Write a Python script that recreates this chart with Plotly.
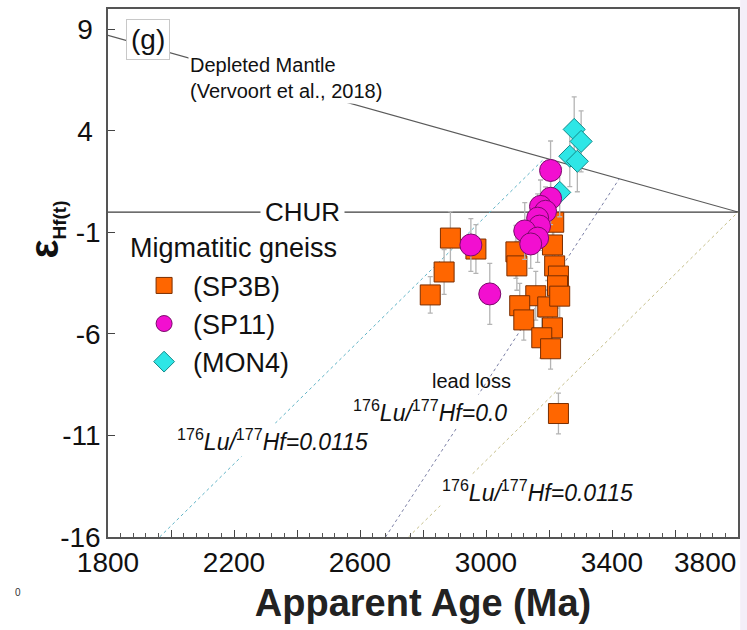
import plotly.graph_objects as go

# --- sample data: apparent age (Ma), epsilon Hf(t) and 2-sigma errors ---
sp3b_age = [2887, 2968, 2867, 2823, 3095, 3098, 3215, 3211, 3218, 3230,
            3227, 3158, 3107, 3196, 3120, 3211, 3177, 3205, 3230, 3234]
sp3b_eps = [-1.28, -1.82, -2.95, -4.08, -1.96, -2.65, -0.50, -1.62, -2.65, -3.15,
            -3.63, -4.12, -4.61, -4.67, -5.31, -5.70, -6.19, -6.73, -9.92, -4.14]
sp3b_err = [1.3, 1.2, 1.1, 0.9, 1.3, 1.2, 1.2, 1.3, 1.1, 1.2,
            1.1, 1.2, 1.1, 1.3, 1.0, 1.1, 1.0, 1.0, 1.0, 1.1]

sp11_age = [3205, 3205, 3173, 3189, 3164, 3170, 3123, 3164, 3142, 2952, 3012]
sp11_eps = [2.05, 0.68, 0.28, 0.04, -0.30, -0.69, -0.93, -1.28, -1.57, -1.62, -4.03]
sp11_err = [1.45, 1.3, 1.3, 1.2, 1.2, 1.2, 1.4, 1.2, 1.2, 1.3, 1.5]

mon4_age = [3280, 3302, 3266, 3290, 3234]
mon4_eps = [4.07, 3.48, 2.75, 2.50, 0.97]
mon4_err = [1.6, 1.5, 1.5, 1.5, 1.2]

# --- reference curves ---
dm_age = [1800, 3800]
dm_eps = [8.7, 0.0]
chur_age = [1800, 3800]
chur_eps = [0.0, 0.0]
evo1_age = [1964, 3186]          # 176Lu/177Hf = 0.0115 from the DM
evo1_eps = [-16.0, 2.65]
leadloss_age = [2681, 3423]      # 176Lu/177Hf = 0.0 (lead loss)
leadloss_eps = [-16.0, 1.64]
evo2_age = [2754, 3800]          # 176Lu/177Hf = 0.0115 from CHUR
evo2_eps = [-16.0, 0.0]

x_major = [1800, 2000, 2200, 2400, 2600, 2800, 3000, 3200, 3400, 3600, 3800]
x_labels = ["1800", "", "2200", "", "2600", "", "3000", "", "3400", "", ""]
y_ticks = [-16, -11, -6, -1, 4, 9]
y_labels = ["-16", "-11", "-6", "-1", "4\u00a0", "9\u00a0"]

FONT = "Arial, Liberation Sans, sans-serif"

fig = go.Figure()

def ref_line(x, y, color, width, dash="solid"):
    fig.add_trace(go.Scatter(x=x, y=y, mode="lines", showlegend=False,
                             hoverinfo="skip",
                             line=dict(color=color, width=width, dash=dash)))

ref_line(dm_age, dm_eps, "#5a5a5a", 1.1)
ref_line(chur_age, chur_eps, "#3c3c3c", 1.3)
ref_line(evo1_age, evo1_eps, "#5fb3c6", 1.0, "dot")
ref_line(leadloss_age, leadloss_eps, "#7b7fa6", 1.0, "dot")
ref_line(evo2_age, evo2_eps, "#c6bf8a", 1.0, "dot")

err_style = dict(type="data", visible=True, color="#b4b4b4", thickness=1.3, width=2.5)

fig.add_trace(go.Scatter(
    x=sp3b_age, y=sp3b_eps, mode="markers", name="(SP3B)", legendrank=1,
    error_y=dict(array=sp3b_err, **err_style),
    marker=dict(symbol="square", size=20, color="#ff6600",
                line=dict(color="#7a2e00", width=1))))

fig.add_trace(go.Scatter(
    x=mon4_age, y=mon4_eps, mode="markers", name="(MON4)", legendrank=3,
    error_y=dict(array=mon4_err, **err_style),
    marker=dict(symbol="diamond", size=17, color="#2ee6e6",
                line=dict(color="#138a8a", width=1))))

fig.add_trace(go.Scatter(
    x=sp11_age, y=sp11_eps, mode="markers", name="(SP11)", legendrank=2,
    error_y=dict(array=sp11_err, **err_style),
    marker=dict(symbol="circle", size=22, color="#f20fd0",
                line=dict(color="#7a0a6a", width=1))))


def txt(size, color="#111111"):
    return dict(family=FONT, size=size, color=color)


lu0 = "<sup>176</sup><i>Lu/</i><sup>177</sup><i>Hf=0.0</i>"
lu115 = "<sup>176</sup><i>Lu/</i><sup>177</sup><i>Hf=0.0115</i>"

annotations = [
    dict(x=1926, y=8.5, text="(g)", bgcolor="white", bordercolor="#c8c8c8",
         borderwidth=1, borderpad=4, font=txt(28)),
    dict(x=2053, y=6.6, xanchor="left", align="left", bgcolor="white",
         text="Depleted Mantle<br>(Vervoort et al., 2018)", font=txt(20)),
    dict(x=2419, y=0, text="CHUR", bgcolor="white", borderpad=4, font=txt(26)),
    dict(x=2953, y=-8.31, text="lead loss", font=txt(20)),
    dict(x=2823, y=-9.78, text=lu0, bgcolor="white", font=txt(23)),
    dict(x=2321, y=-11.21, text=lu115, bgcolor="white", font=txt(23)),
    dict(x=3164, y=-13.71, text=lu115, bgcolor="white", font=txt(23)),
    dict(x=1863, y=-1.78, xanchor="left", text="Migmatitic gneiss", font=txt(27)),
    # right-most x tick label kept inside the canvas
    dict(x=1.0, xref="paper", y=-0.049, yref="paper", xanchor="right",
         yanchor="middle", text="3800", font=txt(28)),
    # y-axis title
    dict(x=-0.14, xref="paper", y=0.582, yref="paper", textangle=-90,
         text="<b>ε<sub><span style=\"font-size:19px\">Hf(t)</span></sub></b>",
         font=txt(40)),
    # stray corner mark
    dict(x=(13 - 108) / 632, xref="paper", y=(537 - 600) / 530, yref="paper",
         text="0", font=txt(10, "#333")),
]
for a in annotations:
    a.setdefault("showarrow", False)
fig.update_layout(annotations=annotations)

fig.update_xaxes(
    range=[1800, 3800], tickmode="array", tickvals=x_major, ticktext=x_labels,
    ticks="inside", ticklen=7, tickwidth=1.2, tickcolor="#444",
    minor=dict(tick0=1800, dtick=40, ticks="inside", ticklen=4,
               tickwidth=1, tickcolor="#555", showgrid=False),
    showline=True, linecolor="#555", linewidth=1.5, mirror=True,
    showgrid=False, zeroline=False,
    tickfont=txt(28),
    title=dict(text="<b>Apparent Age (Ma)</b>", standoff=12,
               font=txt(38, "#222")))

fig.update_yaxes(
    range=[-16, 10], tickmode="array", tickvals=y_ticks, ticktext=y_labels,
    ticks="inside", ticklen=7, tickwidth=1.2, tickcolor="#444",
    showline=True, linecolor="#555", linewidth=1.5, mirror=True,
    showgrid=False, zeroline=False,
    tickfont=txt(28))

fig.update_layout(
    width=747, height=630,
    margin=dict(l=108, r=7, t=7, b=93),
    paper_bgcolor="white", plot_bgcolor="white",
    legend=dict(x=0.043, y=0.522, xanchor="left", yanchor="top",
                bgcolor="rgba(0,0,0,0)", itemwidth=48,
                font=txt(27), tracegroupgap=0),
    shapes=[dict(type="rect", xref="paper", yref="paper",
                 x0=1.0035, x1=1.02, y0=-0.2, y1=1.02,
                 fillcolor="#f4eef8", line=dict(width=0), layer="below")],
)

fig.write_html("out.html")
